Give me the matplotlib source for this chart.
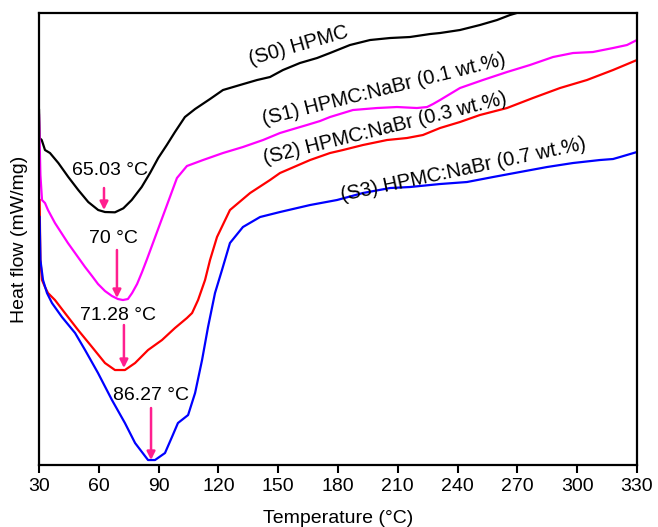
import matplotlib
matplotlib.use("Agg")
import matplotlib.pyplot as plt

plt.rcParams['font.family'] = ['Liberation Sans', 'DejaVu Sans']

# temperature (°C) and heat flow (arbitrary units, curves offset)
t_s0 = [30.0, 30.3, 31.35, 33.0, 35.5, 39.7, 44.7, 49.7, 54.7, 59.7, 63.1, 68.1, 72.3, 76.5,
        81.5, 85.7, 89.8, 94.1, 98.2, 103.2, 108.3, 115.8, 122.3, 130.8, 139.4, 145.9, 152.4,
        160.9, 169.5, 176.0, 186.0, 196.1, 206.1, 216.1, 226.2, 231.2, 241.2, 251.2, 259.8,
        266.3, 271.3, 281.3, 296.4, 330.0]
h_s0 = [355, 327, 325, 315, 312, 302, 288, 275, 263, 255, 253, 252.7, 256.7, 265,
        278, 292, 307, 320, 333, 348, 356, 366, 375, 380, 385, 388, 395,
        402, 407, 412, 420, 425, 427, 428, 431, 432, 435, 440, 445,
        450, 453, 459, 465, 480]

t_s1 = [30.0, 30.7, 31.5, 33.0, 34.5, 38.0, 44.5, 53.1, 56.6, 59.6, 63.1, 66.6, 69.6, 72.1,
        74.6, 76.7, 79.2, 81.7, 84.2, 89.2, 94.2, 99.2, 104.2, 112.3, 122.3, 132.3, 142.4,
        150.9, 155.9, 164.4, 171.0, 176.0, 187.5, 199.6, 209.6, 219.6, 224.7, 227.7, 231.2,
        241.2, 252.7, 264.8, 276.3, 287.9, 297.9, 307.9, 318.0, 325.0, 330.0]
h_s1 = [350, 290, 265, 262, 255, 242, 222, 198, 189, 181, 174, 169, 166, 165,
        166, 172, 181, 193, 206, 233, 260, 287, 299, 305, 312, 318, 325,
        332, 335, 340, 344, 348, 355, 357, 358, 357, 358, 361, 365,
        377, 385, 393, 400, 408, 412, 413, 417, 420, 425]

t_s2 = [30.3, 30.7, 31.5, 33.0, 34.5, 38.0, 43.0, 49.6, 56.6, 63.1, 68.1, 73.1, 78.2, 84.7,
        91.7, 98.2, 104.2, 106.8, 109.8, 113.3, 115.8, 119.3, 125.8, 135.9, 145.9, 150.9,
        166.0, 176.0, 182.5, 192.5, 204.6, 214.6, 222.6, 231.2, 241.2, 251.2, 264.8, 277.8,
        291.4, 304.9, 318.0, 330.0]
h_s2 = [265, 205, 185, 178, 172, 165, 152, 135, 118, 102, 95, 95, 102, 115,
        125, 137, 147, 152, 165, 185, 205, 228, 255, 272, 285, 292,
        305, 312, 315, 320, 325, 327, 330, 337, 343, 350, 357, 367,
        377, 385, 395, 405]

t_s3 = [30.3, 30.7, 32.0, 34.0, 36.5, 41.5, 48.1, 53.1, 59.6, 66.6, 73.1, 78.2, 84.7, 88.2,
        93.2, 96.7, 99.7, 104.8, 108.3, 111.8, 114.8, 118.3, 121.8, 125.8, 132.3, 140.9,
        150.9, 166.0, 179.5, 192.5, 206.1, 216.1, 231.2, 244.7, 257.8, 271.3, 284.9, 297.9,
        311.4, 318.0, 321.5, 330.0]
h_s3 = [248, 205, 185, 172, 162, 148, 132, 115, 92, 65, 42, 22, 5, 5,
        12, 28, 42, 50, 72, 105, 138, 172, 195, 222, 238, 248,
        253, 260, 265, 272, 277, 278, 281, 283, 288, 293, 298, 302,
        305, 306, 308, 313]

series_names = ['(S0) HPMC', '(S1) HPMC:NaBr (0.1 wt.%)',
                '(S2) HPMC:NaBr (0.3 wt.%)', '(S3) HPMC:NaBr (0.7 wt.%)']
series_colors = ['black', '#ff00ff', '#ff0000', '#0000ff']

# peak markers: label, arrow x, arrow start/end y, label position
peak_text = ['65.03 °C', '70 °C', '71.28 °C', '86.27 °C']
peak_x = [62.6, 69.1, 72.6, 86.2]
peak_top = [277, 215, 140, 57]
peak_bot = [255, 167, 97, 5]
peak_lx = [65.6, 67.1, 69.6, 86.2]
peak_ly = [295, 227, 150, 70]

# where the series names sit
name_x = [160.5, 203.0, 203.6, 242.7]
name_y = [419, 375, 337, 295]
name_rot = [16, 14, 14, 12]

fig = plt.figure(figsize=(6.58, 5.27), dpi=100)
ax = fig.add_axes([0.0593, 0.1176, 0.9087, 0.8577])

for t, h, c in zip([t_s0, t_s1, t_s2, t_s3], [h_s0, h_s1, h_s2, h_s3], series_colors):
    ax.plot(t, h, color=c, lw=1.6, solid_joinstyle='round')

for txt, x, y0, y1, lx, ly in zip(peak_text, peak_x, peak_top, peak_bot, peak_lx, peak_ly):
    ax.annotate('', xy=(x, y1), xytext=(x, y0),
                arrowprops=dict(arrowstyle='-|>', color='#ff1f8f', lw=1.8,
                                mutation_scale=12, shrinkA=0, shrinkB=0))
    ax.text(lx, ly, txt, ha='center', va='center', fontsize=14)

for nm, x, y, r in zip(series_names, name_x, name_y, name_rot):
    ax.text(x, y, nm, ha='center', va='center', rotation=r,
            rotation_mode='anchor', fontsize=14.5)

ax.set_xlim(30, 330)
ax.set_ylim(0, 452)
ax.set_xticks(range(30, 331, 30))
ax.set_yticks([])
ax.tick_params(axis='x', direction='out', length=6, width=1.5, labelsize=14, pad=3)
for s in ax.spines.values():
    s.set_linewidth(1.6)

ax.set_xlabel('Temperature (°C)', fontsize=14, labelpad=11)
ax.set_ylabel('Heat flow (mW/mg)', fontsize=14, labelpad=8)

fig.savefig('out.png', dpi=100)
